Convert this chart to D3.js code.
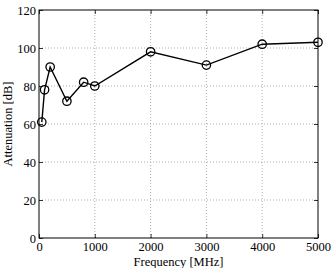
<!DOCTYPE html>
<html>
<head>
<meta charset="utf-8">
<script src="https://cdn.jsdelivr.net/npm/d3@7"></script>
<style>
  body { margin: 0; background: #fff; }
  svg text { font-family: "Liberation Serif", "DejaVu Serif", serif; }
</style>
</head>
<body>
<svg id="chart" width="333" height="268"></svg>
<script>
// frequency in MHz, attenuation in dB
var frequency = [50, 100, 200, 500, 800, 1000, 2000, 3000, 4000, 5000];
var attenuation = [61, 78, 90, 72, 82, 80, 98, 91, 102, 103];
var xTicks = [0, 1000, 2000, 3000, 4000, 5000];
var yTicks = [0, 20, 40, 60, 80, 100, 120];

var margin = { top: 10, right: 15, bottom: 30, left: 39 };
var width = 333, height = 268;

var svg = d3.select("#chart");

var x = d3.scaleLinear()
  .domain([0, 5000])
  .range([margin.left, width - margin.right]);

var y = d3.scaleLinear()
  .domain([0, 120])
  .range([height - margin.bottom, margin.top]);

// grid
var grid = svg.append("g")
  .attr("stroke", "#999")
  .attr("stroke-width", 0.8)
  .attr("stroke-dasharray", "1,2");

grid.selectAll(".vx")
  .data(xTicks.slice(1, -1))
  .join("line")
  .attr("x1", function (d) { return x(d); })
  .attr("x2", function (d) { return x(d); })
  .attr("y1", y(0))
  .attr("y2", y(120));

grid.selectAll(".hy")
  .data(yTicks.slice(1, -1))
  .join("line")
  .attr("y1", function (d) { return y(d); })
  .attr("y2", function (d) { return y(d); })
  .attr("x1", x(0))
  .attr("x2", x(5000));

// axes with inward ticks
svg.append("g")
  .attr("transform", "translate(0," + y(0) + ")")
  .call(d3.axisBottom(x).tickValues(xTicks).tickSize(-4).tickPadding(4).tickFormat(d3.format("d")));

svg.append("g")
  .attr("transform", "translate(" + x(0) + ",0)")
  .call(d3.axisLeft(y).tickValues(yTicks).tickSize(-4).tickPadding(3));

// top / right ticks
svg.append("g")
  .attr("transform", "translate(0," + y(120) + ")")
  .call(d3.axisTop(x).tickValues(xTicks).tickSize(-4).tickFormat(""));
svg.append("g")
  .attr("transform", "translate(" + x(5000) + ",0)")
  .call(d3.axisRight(y).tickValues(yTicks).tickSize(-4).tickFormat(""));

svg.selectAll(".domain").remove();
svg.selectAll(".tick line").attr("stroke", "#000").attr("stroke-width", 0.8);
svg.selectAll(".tick text")
  .attr("fill", "#000")
  .style("font-size", "12.5px");

// box
svg.append("rect")
  .attr("x", x(0))
  .attr("y", y(120))
  .attr("width", x(5000) - x(0))
  .attr("height", y(0) - y(120))
  .attr("fill", "none")
  .attr("stroke", "#000")
  .attr("stroke-width", 1);

var points = frequency.map(function (f, i) { return [f, attenuation[i]]; });

svg.append("path")
  .datum(points)
  .attr("fill", "none")
  .attr("stroke", "#000")
  .attr("stroke-width", 1.4)
  .attr("d", d3.line()
    .x(function (d) { return x(d[0]); })
    .y(function (d) { return y(d[1]); }));

svg.append("g")
  .selectAll("circle")
  .data(points)
  .join("circle")
  .attr("cx", function (d) { return x(d[0]); })
  .attr("cy", function (d) { return y(d[1]); })
  .attr("r", 4.2)
  .attr("fill", "none")
  .attr("stroke", "#000")
  .attr("stroke-width", 1.3);

// axis labels
svg.append("text")
  .attr("x", (x(0) + x(5000)) / 2)
  .attr("y", 266)
  .attr("text-anchor", "middle")
  .style("font-size", "12.5px")
  .text("Frequency [MHz]");

svg.append("text")
  .attr("transform", "translate(12," + (y(0) + y(120)) / 2 + ") rotate(-90)")
  .attr("text-anchor", "middle")
  .style("font-size", "12.5px")
  .text("Attenuation [dB]");
</script>
</body>
</html>
